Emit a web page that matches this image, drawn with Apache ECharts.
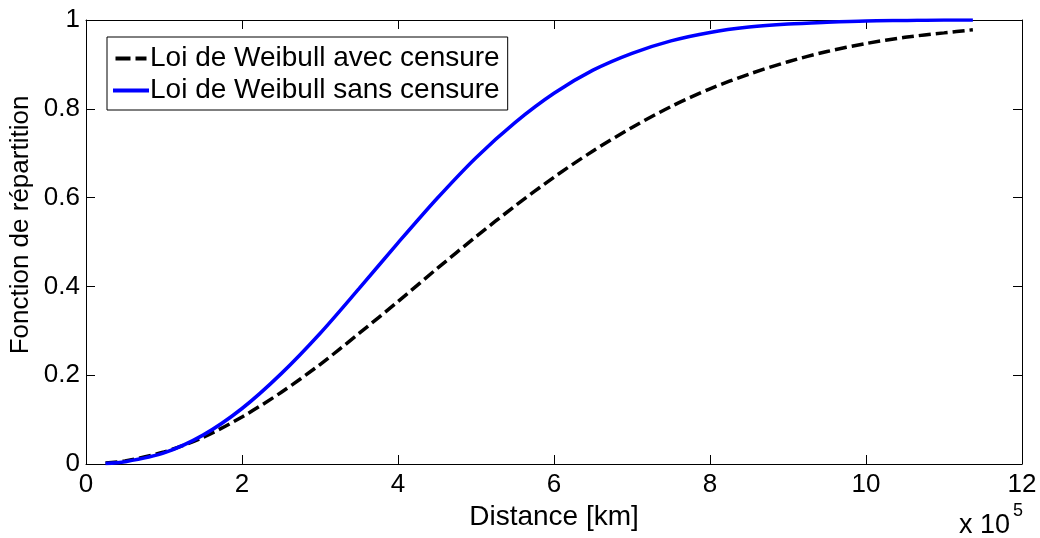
<!DOCTYPE html>
<html>
<head>
<meta charset="utf-8">
<script src="https://cdn.jsdelivr.net/npm/echarts@6/dist/echarts.min.js"></script>
<style>
html,body{margin:0;padding:0;background:#fff;}
#chart{width:1040px;height:538px;}
</style>
</head>
<body>
<div id="chart"></div>
<script>
// Distance in units of 1e5 km
const distance = [0.25, 0.5, 1, 1.5, 2, 2.5, 3, 3.5, 4, 4.5, 5, 5.5, 6, 6.5, 7, 7.5, 8, 8.5, 9, 9.5, 10, 10.5, 11, 11.37];
const avecCensure = [0.002, 0.007, 0.027, 0.060, 0.106, 0.161, 0.224, 0.294, 0.366, 0.440, 0.512, 0.581, 0.646, 0.705, 0.758, 0.805, 0.845, 0.878, 0.906, 0.929, 0.947, 0.961, 0.971, 0.978];
const sansCensure = [0.001, 0.005, 0.025, 0.065, 0.125, 0.203, 0.294, 0.395, 0.498, 0.598, 0.690, 0.769, 0.835, 0.887, 0.925, 0.953, 0.972, 0.984, 0.991, 0.995, 0.998, 0.999, 1.0, 1.0];
const seriesNames = ['Loi de Weibull avec censure', 'Loi de Weibull sans censure'];
const xTicks = [0, 2, 4, 6, 8, 10, 12];
const yTicks = [0, 0.2, 0.4, 0.6, 0.8, 1];
const xName = 'Distance [km]';
const yName = 'Fonction de répartition';

const FONT = '"Liberation Sans", Arial, sans-serif';
const chart = echarts.init(document.getElementById('chart'), null, {renderer: 'canvas'});

function pairs(xs, ys) { return xs.map((x, i) => [x, ys[i]]); }

const axisCommon = {
  axisLine: {show: true, onZero: false, lineStyle: {color: '#000', width: 1}},
  axisTick: {show: true, inside: true, length: 9, lineStyle: {color: '#000', width: 1}},
  splitLine: {show: false}
};

chart.setOption({
  animation: false,
  backgroundColor: '#fff',
  grid: {left: 86, right: 18, top: 20, bottom: 74, containLabel: false},
  legend: {
    data: [
      {name: seriesNames[0], icon: 'path://M0,0H15V4H0Z M20,0H31V4H20Z'},
      {name: seriesNames[1], icon: 'path://M0,0H36V4H0Z'}
    ],
    orient: 'vertical',
    left: 107,
    top: 37,
    padding: [6, 8, 4, 6],
    itemGap: 1,
    itemWidth: 36,
    itemHeight: 4,
    borderColor: '#000',
    borderWidth: 1,
    backgroundColor: '#fff',
    selectedMode: false,
    textStyle: {fontFamily: FONT, fontSize: 28, color: '#000', padding: [0, 0, 0, -4], lineHeight: 31}
  },
  xAxis: [
    Object.assign({}, axisCommon, {
      type: 'value', min: 0, max: 12, interval: 2, position: 'bottom',
      name: xName, nameLocation: 'middle', nameGap: 35,
      nameTextStyle: {fontFamily: FONT, fontSize: 28, color: '#000'},
      axisLabel: {fontFamily: FONT, fontSize: 26, color: '#000', margin: 8,
        formatter: v => xTicks.includes(v) ? String(v) : ''}
    }),
    Object.assign({}, axisCommon, {
      type: 'value', min: 0, max: 12, interval: 2, position: 'top',
      axisLabel: {show: false}
    })
  ],
  yAxis: [
    Object.assign({}, axisCommon, {
      type: 'value', min: 0, max: 1, interval: 0.2, position: 'left',
      axisLabel: {fontFamily: FONT, fontSize: 26, color: '#000', margin: 6,
        formatter: v => { const t = yTicks.find(y => Math.abs(y - v) < 1e-9); return t === undefined ? '' : String(t); }}
    }),
    Object.assign({}, axisCommon, {
      type: 'value', min: 0, max: 1, interval: 0.2, position: 'right',
      axisLabel: {show: false}
    })
  ],
  graphic: [
    {type: 'text', x: 21, y: 225, rotation: Math.PI / 2,
      style: {text: yName, fontFamily: FONT, fontSize: 26, fill: '#000', align: 'center', verticalAlign: 'middle'}},
    {type: 'text', left: 959, top: 512,
      style: {text: 'x 10', fontFamily: FONT, fontSize: 27, fill: '#000'}},
    {type: 'text', left: 1013, top: 502,
      style: {text: '5', fontFamily: FONT, fontSize: 18, fill: '#000'}}
  ],
  series: [
    {
      name: seriesNames[0], type: 'line', data: pairs(distance, avecCensure),
      symbol: 'none', smooth: 0.3, z: 3,
      lineStyle: {color: '#000', width: 3.5, type: [12, 5]},
      itemStyle: {color: '#000'}
    },
    {
      name: seriesNames[1], type: 'line', data: pairs(distance, sansCensure),
      symbol: 'none', smooth: 0.3, z: 4,
      lineStyle: {color: '#0000ff', width: 3.5},
      itemStyle: {color: '#0000ff'}
    }
  ]
});
</script>
</body>
</html>
